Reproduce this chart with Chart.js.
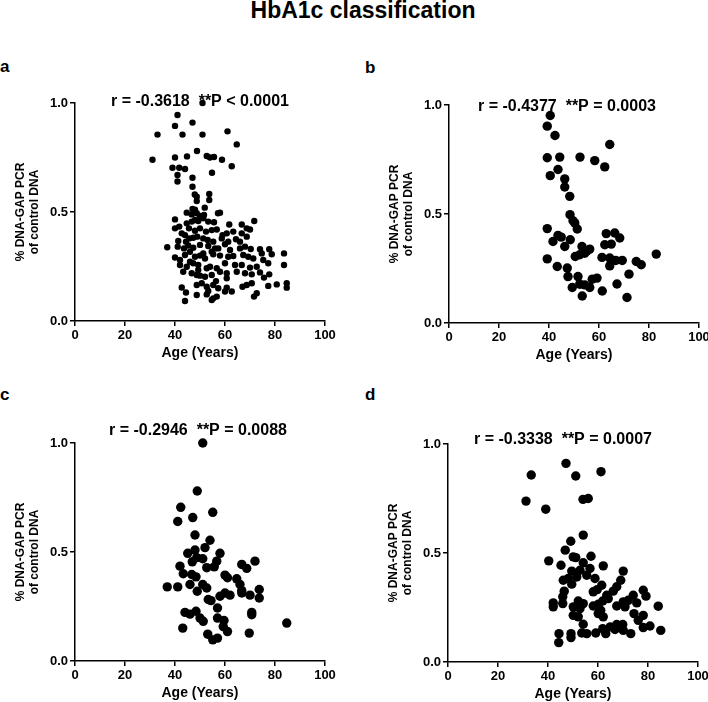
<!DOCTYPE html>
<html><head><meta charset="utf-8">
<script src="https://cdn.jsdelivr.net/npm/chart.js@4.4.1/dist/chart.umd.min.js"></script>
<style>
html,body{margin:0;padding:0;background:#fff;width:708px;height:702px;overflow:hidden;position:relative;font-family:"Liberation Sans",Arial,sans-serif;}
.t{position:absolute;font-weight:bold;line-height:1;white-space:nowrap;color:#000}
canvas{position:absolute}
</style></head><body>
<div class="t" style="left:363px;top:-1px;font-size:23px;transform:translateX(-50%)">HbA1c classification</div>
<div class="t" style="left:0px;top:58px;font-size:17px">a</div>
<div class="t" style="left:365px;top:59px;font-size:17px">b</div>
<div class="t" style="left:0px;top:386px;font-size:17px">c</div>
<div class="t" style="left:365px;top:386px;font-size:17px">d</div>
<canvas id="ca" width="354" height="300" style="left:0px;top:80px"></canvas>
<canvas id="cb" width="350" height="300" style="left:374px;top:82px"></canvas>
<canvas id="cc" width="354" height="300" style="left:0px;top:420px"></canvas>
<canvas id="cd" width="350" height="300" style="left:373px;top:421px"></canvas>
<script>
const xTicks = [0, 20, 40, 60, 80, 100];
const xTickLabels = ['0', '20', '40', '60', '80', '100'];
const yTicks = [0, 0.5, 1.0];
const yTickLabels = ['0.0', '0.5', '1.0'];
const xTitle = 'Age (Years)';
const yTitle = ['% DNA-GAP PCR', 'of control DNA'];
const stats = ['r = -0.3618  **P < 0.0001', 'r = -0.4377  **P = 0.0003', 'r = -0.2946  **P = 0.0088', 'r = -0.3338  **P = 0.0007'];

const aAge = [51,41,47,40,33,43,51,61,64.7,48.8,31,40,44.8,52.7,54,55.6,58.8,39,41.7,44,62.7,41,54.8,41,47,47,47.9,48.7,53.7,53.7,48.7,47,48,51.9,
44.7,46.7,48.7,50,51.6,57.2,58,71.7,
40,44.7,46.7,48,49.3,51.3,53.3,55.6,61.7,66.7,68.7,70,
40,41.7,45.6,48,50,52.4,54.7,56.7,59,60.7,63.3,66.7,68.7,
42.7,44,45.7,47.3,48.9,51.3,53.1,55.3,58.7,61.3,64.4,66,41.3,44.4,
36.9,41.1,43.6,45.3,47.3,50,53.3,56,57.3,60,62,66,68,70.3,74,77.7,46,51.3,54.7,
40,42,44,48,50,52,55.3,58,61.3,63.3,67.3,69.3,71.3,74.7,78.7,83.6,46,
42,44.7,47.3,49.3,54,56.7,60,64,66.7,70,72.7,75.3,77.3,83.6,49.3,52.7,
43.3,46.7,48.7,50,52,54.7,58,60.7,64.7,68,70.7,74,75.6,77.7,56.4,60.7,
42.7,48.7,50.7,52.7,55.3,57.3,60.7,62.7,67,68.7,70.7,77.3,80.7,84.7,84.7,44.4,53.3,
48.7,52.7,55.3,56.7,60,72.7,71.6,44,54.7];
const aVal = [1.0,0.945,0.91,0.895,0.855,0.855,0.855,0.87,0.81,0.78,0.74,0.75,0.755,0.757,0.75,0.752,0.74,0.703,0.703,0.697,0.71,0.67,0.68,0.64,0.657,0.616,0.58,0.57,0.583,0.555,0.55,0.514,0.51,0.52,
0.497,0.489,0.494,0.482,0.486,0.494,0.497,0.459,
0.466,0.448,0.456,0.463,0.459,0.471,0.456,0.453,0.443,0.443,0.425,0.42,
0.425,0.433,0.425,0.414,0.425,0.41,0.417,0.42,0.394,0.402,0.41,0.402,0.387,
0.402,0.394,0.379,0.382,0.387,0.379,0.372,0.364,0.379,0.364,0.375,0.364,0.367,0.364,
0.338,0.341,0.333,0.346,0.336,0.349,0.344,0.333,0.333,0.352,0.326,0.333,0.341,0.33,0.329,0.329,0.318,0.31,0.318,
0.291,0.28,0.303,0.295,0.3,0.287,0.306,0.3,0.295,0.298,0.303,0.295,0.287,0.31,0.306,0.31,0.272,
0.257,0.249,0.265,0.257,0.249,0.242,0.265,0.257,0.257,0.245,0.249,0.28,0.265,0.257,0.234,0.242,
0.226,0.219,0.211,0.208,0.203,0.211,0.226,0.219,0.226,0.219,0.214,0.223,0.199,0.214,0.183,0.196,
0.154,0.165,0.173,0.157,0.165,0.15,0.153,0.135,0.157,0.165,0.173,0.161,0.168,0.173,0.153,0.131,0.138,
0.119,0.122,0.104,0.112,0.135,0.127,0.112,0.092,0.096];

const bAge = [40.5,39.3,42.4,64.3,39.3,44.3,52.4,58.3,62.3,43.6,40.5,46.3,46.3,48.3,48.4,49.6,50.3,51.3,39.3,43.6,44.9,41.6,46.3,48.5,53.2,56.3,54.3,55.2,52.3,50.5,62.9,66.3,68.3,62.3,64.9,39.3,61.2,64.3,66.7,69.3,64.3,74.9,76.9,82.9,43.3,47.3,47.6,51.6,57.3,59.2,72,49.3,52.3,54.3,56.3,61.3,67.2,53.3,71.2];
const bVal = [0.952,0.903,0.86,0.819,0.758,0.761,0.761,0.745,0.716,0.704,0.676,0.661,0.624,0.581,0.497,0.469,0.459,0.431,0.433,0.402,0.394,0.374,0.351,0.382,0.351,0.339,0.32,0.331,0.313,0.305,0.41,0.413,0.39,0.359,0.362,0.294,0.301,0.298,0.287,0.287,0.262,0.282,0.267,0.316,0.259,0.252,0.213,0.213,0.201,0.206,0.224,0.163,0.178,0.175,0.163,0.147,0.179,0.124,0.117];

const cAge = [51.1,48.9,42.3,55.1,47.1,41.1,48,54,52,45.1,48,58,48.7,46.9,51.1,56.7,72,66.7,68.7,42,52.7,55.7,43.3,46.7,48.4,60,61,64.7,36.9,41.1,46,51.1,52.7,48.9,66,66.7,73.7,58,60,62,66.7,70,73.7,53.3,54.4,57,44,46,48.4,50,51.3,57,59.6,70.7,70.7,84.7,43.1,59.3,61,69.7,53.1,55.1,57];
const cVal = [1.0,0.78,0.705,0.682,0.658,0.64,0.578,0.554,0.52,0.494,0.509,0.494,0.474,0.455,0.469,0.458,0.458,0.443,0.425,0.435,0.428,0.432,0.4,0.397,0.386,0.394,0.382,0.377,0.34,0.34,0.351,0.351,0.335,0.32,0.351,0.323,0.328,0.297,0.312,0.302,0.312,0.302,0.289,0.282,0.277,0.243,0.223,0.215,0.228,0.197,0.182,0.197,0.186,0.223,0.212,0.174,0.151,0.158,0.135,0.128,0.123,0.097,0.105];

const dAge = [47.2,33.3,51.1,61.2,31.2,54,56.1,39.1,54.1,49.1,46.9,50.1,51.1,57.2,40.3,45.2,54.1,62.1,70.1,49.5,52.8,56.8,46.1,48.1,51.5,55.5,58.8,69.1,49.5,61.5,67.5,46.5,58.1,59.7,66.1,78.1,45.9,63.5,74.1,79.2,42.1,45.9,52.1,54.1,61.9,64.1,70.1,72.1,75.5,42.1,50.1,52.8,58.1,60.1,67.5,70.8,84.1,50.1,52.1,60.1,62.1,74.4,78.1,76.1,54.1,67.5,69.9,78.1,80.8,61.9,66.8,70.1,85.1,44.4,49.2,53.5,59.1,63.1,73.1,49.2,44.3,55.5,64.9,61.1];
const dVal = [0.911,0.858,0.853,0.873,0.738,0.746,0.75,0.701,0.582,0.554,0.513,0.482,0.479,0.485,0.464,0.444,0.455,0.441,0.417,0.417,0.421,0.429,0.375,0.383,0.39,0.398,0.383,0.375,0.357,0.352,0.345,0.325,0.322,0.332,0.325,0.329,0.299,0.306,0.306,0.302,0.271,0.268,0.28,0.268,0.28,0.291,0.276,0.283,0.271,0.253,0.253,0.245,0.257,0.265,0.257,0.253,0.256,0.214,0.207,0.222,0.207,0.222,0.214,0.191,0.173,0.172,0.172,0.158,0.165,0.153,0.149,0.145,0.145,0.13,0.13,0.133,0.133,0.13,0.13,0.112,0.089,0.13,0.161,0.237];

const FONT = '"Liberation Sans", Arial, sans-serif';
Chart.defaults.font.family = FONT;
Chart.defaults.color = '#000';

const statPlugin = {
  id: 'statText',
  afterDraw(chart, args, opts) {
    const ctx = chart.ctx, a = chart.chartArea;
    ctx.save();
    ctx.font = 'bold 16px ' + FONT;
    ctx.fillStyle = '#000';
    ctx.textAlign = 'center';
    ctx.textBaseline = 'alphabetic';
    ctx.fillText(opts.text, (a.left + a.right) / 2 + opts.dx, a.top + opts.dy);
    ctx.restore();
  }
};

function makeChart(id, ages, vals, radius, rightPad, stat, dx, dy) {
  const pts = ages.map((a, i) => ({x: a, y: vals[i]}));
  return new Chart(document.getElementById(id), {
    type: 'scatter',
    data: {datasets: [{data: pts, backgroundColor: '#000', borderWidth: 0, pointRadius: radius, pointHoverRadius: radius, clip: false}]},
    options: {
      responsive: false, animation: false, events: [],
      layout: {padding: {top: 23, right: rightPad, left: 0, bottom: 0}},
      plugins: {legend: {display: false}, tooltip: {enabled: false}, statText: {text: stat, dx: dx, dy: dy}},
      scales: {
        x: {
          type: 'linear', min: 0, max: 100,
          afterBuildTicks: s => { s.ticks = xTicks.map(v => ({value: v})); },
          afterFit: s => { s.height = 59; },
          grid: {drawOnChartArea: false, drawTicks: true, tickLength: 5, color: '#000', lineWidth: 1.5},
          border: {display: true, color: '#000', width: 1.5},
          ticks: {color: '#000', font: {size: 13, weight: 'bold', lineHeight: 1.2}, padding: 2, maxRotation: 0, autoSkip: false,
                  callback: (v, i) => xTickLabels[i]},
          title: {display: true, text: xTitle, color: '#000', font: {size: 14, weight: 'bold', lineHeight: 1.2}, padding: {top: 0, bottom: 18.6}}
        },
        y: {
          type: 'linear', min: 0, max: 1,
          afterBuildTicks: s => { s.ticks = yTicks.map(v => ({value: v})); },
          afterFit: s => { s.width = 75; },
          grid: {drawOnChartArea: false, drawTicks: true, tickLength: 5, color: '#000', lineWidth: 1.5},
          border: {display: true, color: '#000', width: 1.5},
          ticks: {color: '#000', font: {size: 13, weight: 'bold', lineHeight: 1.2}, padding: 2, autoSkip: false,
                  callback: (v, i) => yTickLabels[i]},
          title: {display: true, text: yTitle, color: '#000', font: {size: 12, weight: 'bold', lineHeight: 1.2}, padding: {top: 13.5, bottom: 0}}
        }
      }
    },
    plugins: [statPlugin]
  });
}

makeChart('ca', aAge, aVal, 3.2, 29, stats[0], 0, 3);
makeChart('cb', bAge, bVal, 4.7, 25, stats[1], -7, 6);
makeChart('cc', cAge, cVal, 4.7, 29, stats[2], -2, -8.5);
makeChart('cd', dAge, dVal, 4.7, 25, stats[3], -10, -0.5);
</script>
</body></html>
